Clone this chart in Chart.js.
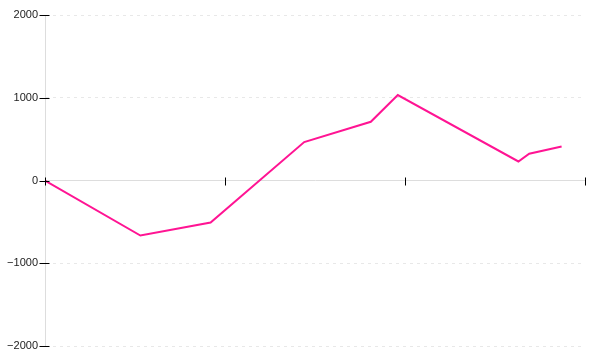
<!DOCTYPE html>
<html>
<head>
<meta charset="utf-8">
<script src="https://cdn.jsdelivr.net/npm/chart.js@4"></script>
<style>
  html, body { margin: 0; padding: 0; background: #fff; }
  #wrap { width: 600px; height: 360px; }
</style>
</head>
<body>
<div id="wrap"><canvas id="chart"></canvas></div>
<script>
// x positions (0..300) and values
const xValues = [0, 53, 92, 144, 181, 196, 263, 269, 287];
const yValues = [0, -665, -508, 464, 710, 1033, 230, 323, 411];
const xTicks = [0, 100, 200, 300];
const yTicks = [-2000, -1000, 0, 1000, 2000];

// small crossing tick marks like the original
const crossTicks = {
  id: "crossTicks",
  afterDraw(chart) {
    const ctx = chart.ctx;
    const x = chart.scales.x;
    const y = chart.scales.y;
    const y0 = Math.round(y.getPixelForValue(0)) + 0.5;
    const x0 = Math.round(x.getPixelForValue(0)) + 0.5;
    ctx.save();
    ctx.strokeStyle = "#000";
    ctx.lineWidth = 1;
    ctx.beginPath();
    xTicks.forEach((v) => {
      const px = Math.round(x.getPixelForValue(v)) + 0.5;
      ctx.moveTo(px, y0 - 4);
      ctx.lineTo(px, y0 + 4);
    });
    yTicks.forEach((v) => {
      const py = Math.round(y.getPixelForValue(v)) + 0.5;
      ctx.moveTo(x0 - 6, py);
      ctx.lineTo(x0 + 4, py);
    });
    ctx.stroke();
    ctx.restore();
  },
};

const ctx = document.getElementById("chart").getContext("2d");
new Chart(ctx, {
  type: "line",
  data: {
    datasets: [
      {
        data: xValues.map((v, i) => ({ x: v, y: yValues[i] })),
        borderColor: "#ff1493",
        borderWidth: 2,
        pointRadius: 0,
        tension: 0,
        fill: false,
      },
    ],
  },
  plugins: [crossTicks],
  options: {
    responsive: true,
    maintainAspectRatio: false,
    animation: false,
    layout: { padding: { top: 15, right: 15, bottom: 14, left: 0 } },
    plugins: {
      legend: { display: false },
      tooltip: { enabled: false },
    },
    scales: {
      x: {
        type: "linear",
        position: { y: 0 },
        min: 0,
        max: 300,
        ticks: { stepSize: 100, display: false },
        grid: { drawOnChartArea: false, drawTicks: false },
        border: { color: "#dddddd", width: 1 },
      },
      y: {
        type: "linear",
        min: -2000,
        max: 2000,
        afterFit(scale) {
          scale.width = 45;
        },
        ticks: {
          stepSize: 1000,
          padding: 7,
          color: "#222",
          font: { family: "Liberation Sans", size: 11 },
          callback: (v) => (v < 0 ? "\u2212" + Math.abs(v) : String(v)),
        },
        grid: { color: "#e8e8e8", drawTicks: false },
        border: { color: "#dddddd", width: 1, dash: [3, 4] },
      },
    },
  },
});
</script>
</body>
</html>
